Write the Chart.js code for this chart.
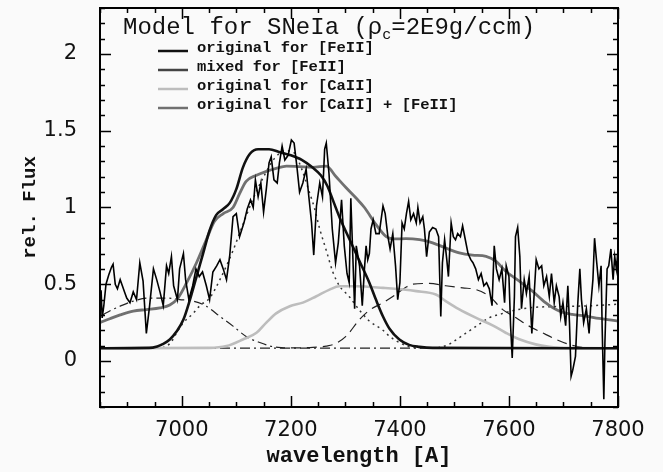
<!DOCTYPE html>
<html>
<head>
<meta charset="utf-8">
<title>SNeIa model spectrum</title>
<script src="https://cdn.jsdelivr.net/npm/chart.js@4.4.1/dist/chart.umd.min.js"></script>
<style>
  body { margin: 0; background: #fafafa; }
  canvas { display: block; }
</style>
</head>
<body>
<canvas id="spectrum" width="663" height="472"></canvas>
<script>
// axis ticks
const xTickLabels = [7000, 7200, 7400, 7600, 7800];
const yTickLabels = [0, 0.5, 1, 1.5, 2];

// observed spectrum
const obsWave = [6850, 6852, 6854, 6857, 6861, 6866, 6871, 6874, 6878, 6882, 6887, 6891, 6895, 6899, 6905, 6911, 6917, 6923, 6929, 6935,
  6941, 6948, 6954, 6960, 6966, 6972, 6976, 6981, 6985, 6992, 6996, 7003, 7007, 7013, 7020, 7026, 7032, 7038, 7045, 7051,
  7057, 7064, 7070, 7076, 7082, 7088, 7094, 7100, 7106, 7114, 7120, 7126, 7131, 7135, 7140, 7145, 7150, 7155, 7160, 7164,
  7169, 7175, 7179, 7184, 7189, 7195, 7201, 7206, 7211, 7216, 7222, 7228, 7233, 7238, 7242, 7247, 7253, 7258, 7262, 7265,
  7270, 7276, 7282, 7287, 7293, 7298, 7303, 7307, 7310, 7317, 7320, 7326, 7331, 7335, 7338, 7341, 7344, 7347, 7351, 7356,
  7362, 7369, 7373, 7378, 7382, 7387, 7392, 7396, 7400, 7404, 7408, 7412, 7416, 7420, 7425, 7430, 7433, 7437, 7442, 7445,
  7449, 7454, 7460, 7466, 7471, 7475, 7478, 7482, 7486, 7489, 7494, 7498, 7502, 7506, 7511, 7515, 7520, 7525, 7530, 7534,
  7539, 7544, 7549, 7554, 7559, 7564, 7569, 7573, 7577, 7582, 7587, 7592, 7595, 7600, 7603, 7606, 7610, 7612, 7616, 7620,
  7623, 7628, 7632, 7637, 7642, 7646, 7650, 7655, 7660, 7664, 7669, 7674, 7678, 7683, 7687, 7692, 7695, 7699, 7704, 7708,
  7711, 7714, 7717, 7722, 7726, 7730, 7733, 7737, 7742, 7747, 7750, 7754, 7757, 7761, 7765, 7769, 7771, 7774, 7776, 7780,
  7783, 7787, 7791, 7794, 7797, 7800];
const obsFlux = [0.30, 0.46, 0.28, 0.36, 0.50, 0.56, 0.61, 0.63, 0.50, 0.47, 0.53, 0.49, 0.45, 0.41, 0.38, 0.45, 0.40, 0.64, 0.52, 0.18,
  0.36, 0.60, 0.53, 0.45, 0.36, 0.62, 0.57, 0.68, 0.49, 0.40, 0.60, 0.70, 0.53, 0.40, 0.49, 0.60, 0.55, 0.58, 0.49, 0.40,
  0.58, 0.62, 0.66, 0.60, 0.53, 0.69, 0.94, 0.96, 0.81, 0.90, 0.99, 1.05, 1.00, 1.18, 1.07, 1.16, 0.97, 1.12, 1.29, 1.33,
  1.18, 1.16, 1.29, 1.40, 1.31, 1.34, 1.44, 1.42, 1.27, 1.10, 1.16, 1.25, 1.07, 0.90, 0.69, 1.01, 1.16, 1.07, 1.38, 1.42,
  1.22, 0.86, 0.64, 0.77, 1.05, 0.75, 0.57, 0.51, 1.06, 0.34, 0.75, 0.62, 0.36, 0.60, 0.75, 0.66, 0.70, 0.86, 0.92, 0.83,
  0.83, 1.01, 0.96, 0.81, 0.73, 0.83, 0.62, 0.40, 0.51, 0.90, 0.86, 0.96, 1.04, 0.92, 0.96, 0.90, 1.00, 0.90, 0.94, 0.86,
  0.68, 0.84, 0.87, 0.86, 0.81, 0.29, 0.64, 0.79, 0.66, 0.55, 0.90, 0.81, 0.79, 0.83, 0.81, 0.88, 0.79, 0.70, 0.66, 0.64,
  0.60, 0.53, 0.57, 0.49, 0.51, 0.47, 0.36, 0.75, 0.60, 0.53, 0.60, 0.38, 0.62, 0.55, 0.23, 0.02, 0.42, 0.81, 0.87, 0.68,
  0.34, 0.53, 0.44, 0.55, 0.18, 0.42, 0.66, 0.60, 0.62, 0.49, 0.55, 0.42, 0.57, 0.38, 0.49, 0.42, 0.29, 0.38, 0.23, 0.49,
  0.25, -0.10, -0.06, 0.03, 0.36, 0.60, 0.40, 0.25, 0.34, 0.18, 0.36, 0.53, 0.80, 0.64, 0.49, 0.62, 0.21, -0.25, 0.12, 0.60,
  0.62, 0.73, 0.53, 0.68, 0.60, 0.72];

// model: original for [FeII]
const feWave = [6850, 6940, 6955, 6965, 6978, 6990, 7003, 7015, 7027, 7039, 7051, 7063, 7076, 7088, 7100, 7112, 7125, 7140, 7160, 7180,
  7200, 7220, 7240, 7255, 7267, 7278, 7290, 7308, 7326, 7344, 7356, 7369, 7381, 7399, 7417, 7436, 7460, 7800];
const feFlux = [0.083, 0.085, 0.095, 0.11, 0.14, 0.19, 0.27, 0.40, 0.55, 0.70, 0.85, 0.95, 0.99, 1.03, 1.12, 1.26, 1.35, 1.38, 1.38, 1.36,
  1.34, 1.31, 1.26, 1.21, 1.14, 1.04, 0.93, 0.79, 0.65, 0.51, 0.40, 0.29, 0.21, 0.14, 0.105, 0.092, 0.085, 0.083];

// model: original for [CaII]
const caWave = [6850, 7050, 7082, 7112, 7137, 7155, 7173, 7198, 7222, 7246, 7271, 7289, 7320, 7369, 7430, 7466, 7484, 7509, 7539, 7570,
  7594, 7619, 7649, 7674, 7700, 7800];
const caFlux = [0.083, 0.085, 0.097, 0.14, 0.184, 0.25, 0.31, 0.357, 0.38, 0.42, 0.465, 0.487, 0.487, 0.476, 0.455, 0.433, 0.39, 0.336, 0.282, 0.232,
  0.184, 0.141, 0.108, 0.093, 0.085, 0.083];

// model: original for [CaII] + [FeII]
const sumWave = [6850, 6868, 6887, 6911, 6935, 6960, 6978, 6993, 7009, 7027, 7045, 7060, 7076, 7094, 7106, 7118, 7137, 7155, 7173, 7192,
  7216, 7240, 7265, 7283, 7301, 7320, 7335, 7356, 7375, 7390, 7411, 7436, 7460, 7484, 7509, 7533, 7558, 7576, 7594, 7619,
  7643, 7667, 7692, 7716, 7741, 7765, 7800];
const sumFlux = [0.25, 0.275, 0.30, 0.325, 0.335, 0.346, 0.365, 0.41, 0.51, 0.64, 0.79, 0.91, 0.96, 1.00, 1.09, 1.17, 1.21, 1.235, 1.255, 1.27,
  1.266, 1.262, 1.27, 1.20, 1.13, 1.06, 1.00, 0.89, 0.81, 0.795, 0.797, 0.79, 0.77, 0.736, 0.704, 0.69, 0.682, 0.65, 0.585, 0.52,
  0.455, 0.38, 0.325, 0.303, 0.292, 0.277, 0.26];

// single line components
const blueCompWave = [6855, 6870, 6887, 6911, 6941, 6972, 6996, 7021, 7045, 7070, 7094, 7118, 7143, 7167, 7190];
const blueCompFlux = [0.30, 0.33, 0.357, 0.39, 0.41, 0.41, 0.40, 0.39, 0.357, 0.29, 0.227, 0.16, 0.12, 0.093, 0.085];

const redCompWave = [7200, 7240, 7265, 7280, 7301, 7326, 7344, 7369, 7387, 7411, 7423, 7454, 7484, 7515, 7539, 7564, 7588, 7613, 7637, 7661,
  7686, 7710, 7735, 7760];
const redCompFlux = [0.085, 0.088, 0.097, 0.11, 0.16, 0.27, 0.33, 0.38, 0.42, 0.48, 0.50, 0.505, 0.49, 0.476, 0.466, 0.422, 0.336, 0.282, 0.227, 0.184,
  0.141, 0.108, 0.088, 0.085];

const feCompWave = [6965, 6980, 6990, 7003, 7021, 7033, 7051, 7070, 7094, 7110, 7130, 7150, 7170, 7190, 7205, 7220, 7234, 7243, 7253, 7265,
  7277, 7289, 7307, 7326, 7344, 7369, 7381, 7399, 7420, 7440];
const feCompFlux = [0.085, 0.12, 0.18, 0.25, 0.31, 0.36, 0.41, 0.53, 0.72, 0.87, 1.05, 1.20, 1.32, 1.37, 1.36, 1.25, 1.10, 1.00, 0.86, 0.72,
  0.58, 0.49, 0.42, 0.33, 0.26, 0.20, 0.16, 0.12, 0.09, 0.085];

const caCompWave = [7470, 7490, 7509, 7527, 7545, 7564, 7582, 7610, 7650, 7700, 7750, 7800];
const caCompFlux = [0.085, 0.108, 0.152, 0.195, 0.238, 0.282, 0.303, 0.33, 0.35, 0.355, 0.36, 0.37];

const baseWave = [6850, 7800];
const baseFlux = [0.083, 0.083];

function pts(wave, flux) {
  return wave.map((w, i) => ({x: w, y: flux[i]}));
}

function smooth(label, wave, flux, color, width, dash, inLegend) {
  return {
    label: label,
    data: pts(wave, flux),
    borderColor: color,
    borderWidth: width,
    borderDash: dash,
    cubicInterpolationMode: 'monotone',
    pointRadius: 0,
    inLegend: inLegend
  };
}

// frame with inward ticks on all four sides
const frameTicks = {
  id: 'frameTicks',
  afterDraw(c) {
    const {ctx, chartArea: a, scales: {x, y}} = c;
    ctx.save();
    ctx.strokeStyle = '#000';
    ctx.lineWidth = 1.5;
    ctx.beginPath();
    for (let w = 6850; w <= 7800; w += 50) {
      const px = Math.round(x.getPixelForValue(w)) + 0.5;
      const len = w % 200 === 0 ? 11 : 5;
      ctx.moveTo(px, a.bottom); ctx.lineTo(px, a.bottom - len);
      ctx.moveTo(px, a.top); ctx.lineTo(px, a.top + len);
    }
    for (let k = -3; k <= 23; k++) {
      const py = Math.round(y.getPixelForValue(k / 10)) + 0.5;
      const len = k % 5 === 0 ? 11 : 5;
      ctx.moveTo(a.left, py); ctx.lineTo(a.left + len, py);
      ctx.moveTo(a.right, py); ctx.lineTo(a.right - len, py);
    }
    ctx.stroke();
    ctx.lineWidth = 2;
    ctx.strokeRect(a.left, a.top, a.right - a.left, a.bottom - a.top);
    ctx.restore();
  }
};

// model title and line key inside the frame
const modelKey = {
  id: 'modelKey',
  afterDraw(c) {
    const ctx = c.ctx;
    ctx.save();
    ctx.fillStyle = '#111';
    ctx.textBaseline = 'alphabetic';
    let tx = 123;
    ctx.font = '24px "Liberation Mono"';
    ctx.fillText('Model for SNeIa (\u03c1', tx, 34);
    tx += ctx.measureText('Model for SNeIa (\u03c1').width;
    ctx.font = '15px "Liberation Mono"';
    ctx.fillText('c', tx, 39);
    tx += ctx.measureText('c').width;
    ctx.font = '24px "Liberation Mono"';
    ctx.fillText('=2E9g/ccm)', tx, 34);

    ctx.font = 'bold 15.5px "Liberation Mono"';
    let row = 0;
    c.data.datasets.forEach(ds => {
      if (!ds.inLegend) return;
      const by = 52 + row * 19;
      ctx.strokeStyle = ds.borderColor;
      ctx.lineWidth = 2.5;
      ctx.setLineDash([]);
      ctx.beginPath();
      ctx.moveTo(158, by - 1);
      ctx.lineTo(188, by - 1);
      ctx.stroke();
      ctx.fillText(ds.label, 197, by);
      row++;
    });
    ctx.restore();
  }
};

// fixed axis boxes so the frame sits where it should
function fitX(s) {
  s.height = 65;
  s.paddingLeft = 0;
  s.paddingRight = 0;
}
function fitY(s) {
  s.width = 100;
  s.paddingTop = 0;
  s.paddingBottom = 0;
}

let ctx = document.getElementById('spectrum').getContext('2d');
let chart = new Chart(ctx, {
  type: 'line',
  data: {
    datasets: [
      {
        label: 'observed',
        data: pts(obsWave, obsFlux),
        borderColor: '#000',
        borderWidth: 1.6,
        tension: 0,
        pointRadius: 0
      },
      smooth('original for [FeII]', feWave, feFlux, '#111', 2.6, [], true),
      smooth('mixed for [FeII]', [], [], '#444', 2.6, [], true),
      smooth('original for [CaII]', caWave, caFlux, '#bdbdbd', 2.6, [], true),
      smooth('original for [CaII] + [FeII]', sumWave, sumFlux, '#707070', 2.8, [], true),
      smooth('blue component', blueCompWave, blueCompFlux, '#222', 1.2, [9, 4, 2, 4], false),
      smooth('red component', redCompWave, redCompFlux, '#222', 1.2, [10, 6], false),
      smooth('FeII component', feCompWave, feCompFlux, '#333', 1.5, [2, 4], false),
      smooth('CaII component', caCompWave, caCompFlux, '#333', 1.5, [2, 4], false),
      smooth('continuum', baseWave, baseFlux, '#222', 1.3, [10, 4, 2, 4], false)
    ]
  },
  options: {
    responsive: false,
    animation: false,
    events: [],
    layout: { padding: { left: 0, right: 45, top: 8, bottom: 0 } },
    plugins: {
      legend: { display: false },
      tooltip: { enabled: false }
    },
    scales: {
      x: {
        type: 'linear',
        min: 6850,
        max: 7800,
        afterBuildTicks: s => { s.ticks = xTickLabels.map(v => ({value: v})); },
        afterFit: fitX,
        grid: { display: false },
        border: { display: false },
        ticks: {
          color: '#111',
          padding: 3,
          maxRotation: 0,
          callback: v => String(v),
          font: { family: 'DejaVu Sans', size: 21 }
        },
        title: {
          display: true,
          text: 'wavelength [A]',
          color: '#111',
          padding: { top: 0, bottom: 2 },
          font: { family: 'Liberation Mono', size: 22, weight: 'bold' }
        }
      },
      y: {
        min: -0.3,
        max: 2.3,
        afterBuildTicks: s => { s.ticks = yTickLabels.map(v => ({value: v})); },
        afterFit: fitY,
        grid: { display: false },
        border: { display: false },
        ticks: {
          color: '#111',
          padding: 15,
          callback: v => String(v),
          font: { family: 'DejaVu Sans', size: 21 }
        },
        title: {
          display: true,
          text: 'rel. Flux',
          color: '#111',
          padding: { top: 19, bottom: 0 },
          font: { family: 'Liberation Mono', size: 19, weight: 'bold' }
        }
      }
    }
  },
  plugins: [frameTicks, modelKey]
});
</script>
</body>
</html>
